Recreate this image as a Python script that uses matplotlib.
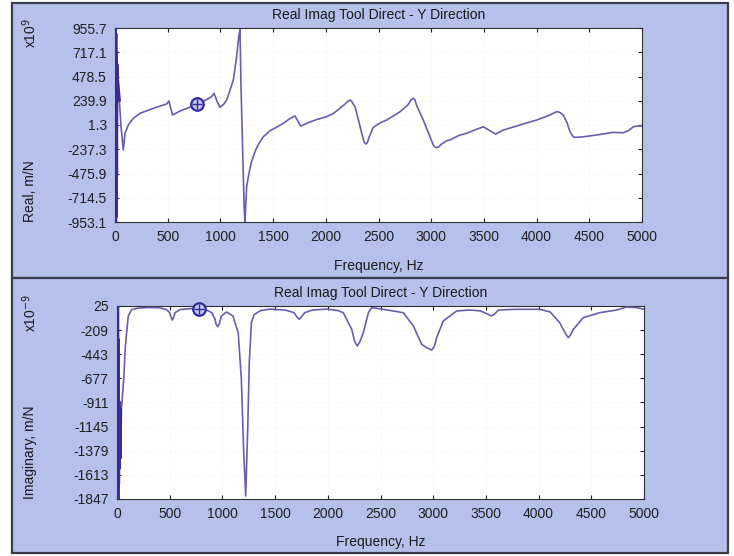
import numpy as np
import matplotlib
matplotlib.use("Agg")
import matplotlib.pyplot as plt
from matplotlib.patches import Rectangle

plt.rcParams['font.family'] = ['Liberation Sans', 'DejaVu Sans']

# ---- data -------------------------------------------------------------
title = "Real Imag Tool Direct - Y Direction"
xlabel = "Frequency, Hz"
x_ticks = [0, 500, 1000, 1500, 2000, 2500, 3000, 3500, 4000, 4500, 5000]

real_ticks = [955.7, 717.1, 478.5, 239.9, 1.3, -237.3, -475.9, -714.5, -953.1]
imag_ticks = [25, -209, -443, -677, -911, -1145, -1379, -1613, -1847]

freq_real = [0, 2, 4, 6, 8, 10, 12, 15, 18, 22, 41, 57, 79, 95, 126, 174, 237,
             363, 490, 512, 530, 547, 617, 700, 780, 850, 917, 940, 970, 996,
             1030, 1060, 1123, 1154, 1175, 1186, 1195, 1210, 1225, 1233, 1249,
             1265, 1280, 1295, 1312, 1335, 1360, 1385, 1407, 1440, 1470, 1534,
             1600, 1660, 1708, 1735, 1761, 1850, 1913, 2008, 2071, 2103, 2180,
             2210, 2230, 2245, 2255, 2277, 2310, 2341, 2365, 2381, 2395, 2410,
             2451, 2520, 2577, 2640, 2704, 2780, 2810, 2830, 2845, 2860, 2925,
             3020, 3035, 3051, 3070, 3100, 3147, 3178, 3273, 3336, 3420, 3494,
             3550, 3612, 3684, 3811, 3900, 4000, 4127, 4180, 4197, 4220, 4253,
             4290, 4317, 4340, 4355, 4380, 4440, 4570, 4728, 4823, 4870, 4918,
             4960, 5000]
real_vals = [955.7, -953.1, 955.7, -953.1, 900, -900, 700, -500, 600, 476, 247,
             -15, -245, -81, 1, 67, 116, 165, 208, 237, 160, 100, 139, 172, 205,
             240, 280, 313, 230, 175, 205, 247, 444, 673, 880, 940, 400, -200,
             -800, -950, -606, -510, -430, -360, -310, -245, -190, -150, -114,
             -85, -55, -20, 20, 65, 90, 40, -9, 30, 55, 83, 115, 140, 205, 235,
             247, 235, 215, 181, 50, -81, -170, -186, -170, -120, -21, 25, 50,
             90, 132, 200, 250, 264, 250, 200, 50, -196, -215, -222, -215, -185,
             -153, -146, -97, -81, -45, -16, -50, -88, -48, -9, 20, 50, 100,
             128, 132, 125, 100, 20, -65, -105, -120, -120, -115, -97, -71, -75,
             -55, -16, -9, -9]

freq_imag = [0, 3, 6, 9, 12, 15, 18, 22, 26, 30, 35, 45, 55, 66, 76, 85, 107,
             139, 200, 300, 400, 470, 500, 510, 525, 540, 550, 600, 700, 780,
             850, 900, 930, 940, 955, 970, 990, 1040, 1100, 1150, 1180, 1200,
             1221, 1240, 1255, 1275, 1300, 1360, 1452, 1600, 1680, 1710, 1730,
             1750, 1780, 1850, 1990, 2100, 2147, 2227, 2255, 2280, 2305, 2337,
             2385, 2417, 2500, 2717, 2812, 2891, 2940, 2985, 3010, 3033, 3096,
             3223, 3349, 3450, 3530, 3555, 3580, 3620, 3780, 4013, 4110, 4200,
             4260, 4282, 4300, 4330, 4424, 4580, 4740, 4836, 4930, 5000]
imag_vals = [25, -1847, 20, -1847, -300, -1700, -900, -1550, -1000, -1450, -977,
             -945, -800, -654, -420, -300, -72, -10, 5, 10, 8, -10, -40, -75,
             -111, -80, -40, -10, 0, -5, -15, -40, -104, -150, -176, -150, -72,
             -33, -72, -234, -686, -1333, -1818, -1171, -525, -137, -60, -20,
             -5, -15, -40, -85, -104, -80, -40, -15, -5, -20, -40, -201, -320,
             -363, -320, -234, -40, 9, -3, -40, -169, -347, -380, -402, -370,
             -282, -120, -23, -14, -23, -60, -72, -55, -14, -7, -7, -33, -137,
             -250, -282, -260, -201, -88, -40, -14, 15, 9, -7]

cursor_freq = 780

# ---- styling ----------------------------------------------------------
W, H = 734, 556
panel_bg = '#b5c1ea'
line_col = '#6a5cb0'
frame_col = '#3c3c4c'

fig = plt.figure(figsize=(W / 100, H / 100), dpi=100, facecolor='white')

def fx(px):
    return px / W

def fy(py):
    return 1 - py / H

# panel backgrounds with a dark frame
for top, bot in [(3, 278), (278, 553)]:
    fig.add_artist(Rectangle((fx(12), fy(bot)), fx(728) - fx(12), fy(top) - fy(bot),
                             transform=fig.transFigure, facecolor=panel_bg,
                             edgecolor=frame_col, linewidth=1.6, zorder=0))

panels = [
    dict(rect=(115, 28, 642, 222), f=freq_real, v=real_vals, ticks=real_ticks,
         ylabel='Real, m/N', scale=r'x10$^{9}$', scale_top=18),
    dict(rect=(117, 306, 644, 499), f=freq_imag, v=imag_vals, ticks=imag_ticks,
         ylabel='Imaginary, m/N', scale=r'x10$^{-9}$', scale_top=294),
]

for p in panels:
    l, t, r, b = p['rect']
    ax = fig.add_axes([fx(l), fy(b), fx(r) - fx(l), fy(t) - fy(b)])
    ax.set_facecolor('white')
    ax.plot(p['f'], p['v'], color=line_col, lw=1.2, zorder=3,
            solid_joinstyle='round')
    # low-frequency band drawn darker and thicker
    n_low = 11
    ax.plot(p['f'][:n_low], p['v'][:n_low], color='#3a2c94', lw=2.2, zorder=4)

    idx = p['f'].index(cursor_freq)
    cy = p['v'][idx]
    ax.plot([cursor_freq], [cy], marker='o', ms=9, mfc='#c9c9f2', mec='#2c2c9c',
            mew=1.6, zorder=6, clip_on=False)
    ax.plot([cursor_freq], [cy], marker='+', ms=7, mec='#2c2c9c', mew=1.0,
            zorder=7, clip_on=False)

    ax.set_xlim(0, 5000)
    ax.set_ylim(p['ticks'][-1], p['ticks'][0])
    ax.set_xticks(x_ticks)
    ax.set_xticklabels([str(v) for v in x_ticks])
    ax.set_yticks(p['ticks'])
    ax.set_yticklabels([f"{v:g}" if isinstance(v, int) else f"{v:.1f}" for v in p['ticks']])
    ax.tick_params(direction='in', length=3, width=0.8, colors='#202020',
                   labelsize=10, top=True, right=True, pad=6)
    ax.grid(True, color='#f3f3e2', lw=0.6, ls=':')
    for s in ax.spines.values():
        s.set_color('#303030')
        s.set_linewidth(0.8)

    ax.text(0.5, 1.068, title, transform=ax.transAxes, ha='center', va='center',
            fontsize=10, color='#1a1a1a')
    ax.set_xlabel(xlabel, fontsize=10, color='#1a1a1a', va='center')
    ax.xaxis.set_label_coords(0.5, -0.225)

    fig.text(fx(30), fy(b), p['ylabel'], rotation=90, ha='center', va='bottom',
             fontsize=10, color='#1a1a1a')
    fig.text(fx(30), fy(p['scale_top']), p['scale'], rotation=90, ha='center',
             va='top', fontsize=10, color='#1a1a1a')

fig.savefig('out.png', dpi=100, facecolor=fig.get_facecolor())
